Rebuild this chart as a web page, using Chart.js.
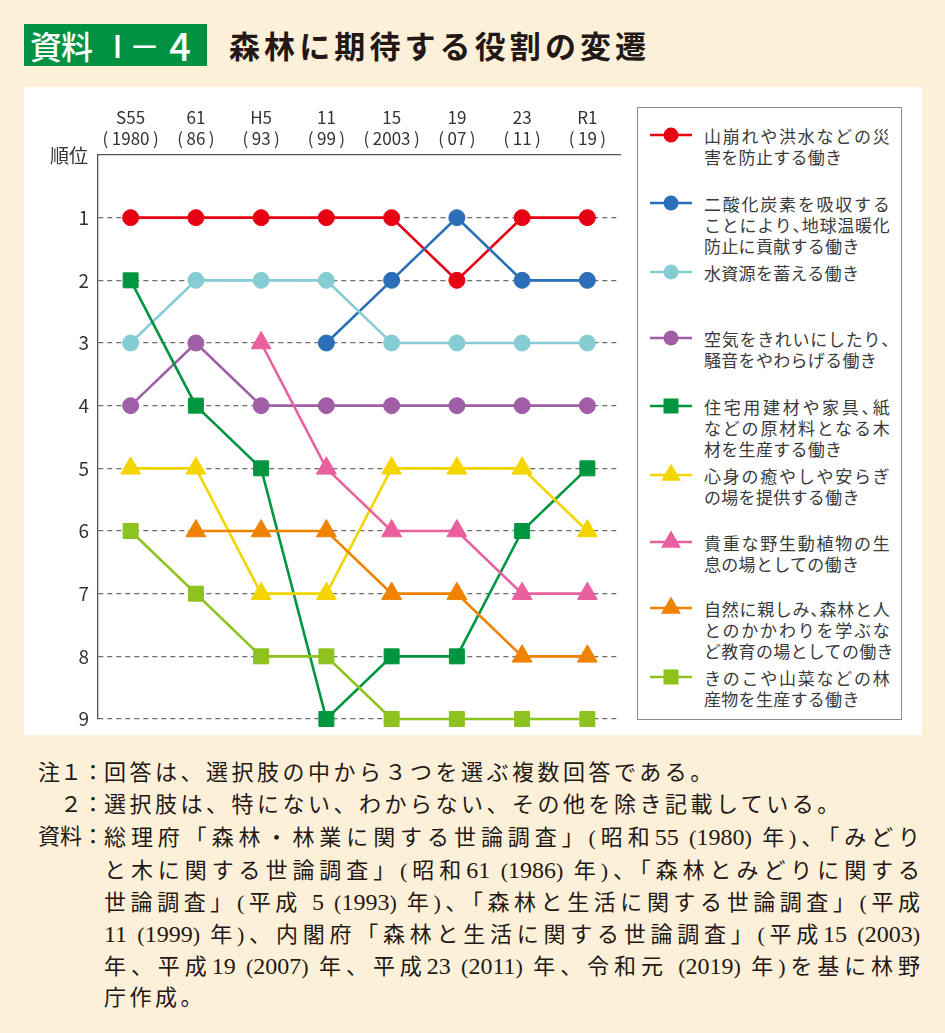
<!DOCTYPE html>
<html lang="ja">
<head>
<meta charset="utf-8">
<script src="https://cdn.jsdelivr.net/npm/chart.js@4.4.1/dist/chart.umd.min.js"></script>
<style>
html,body{margin:0;padding:0;}
body{width:945px;height:1033px;background:#FDF0D9;position:relative;overflow:hidden;font-family:"Noto Sans CJK JP","Noto Sans",sans-serif;color:#333;}
#badge{position:absolute;left:24px;top:24px;width:183px;height:42px;background:#009143;}
#badge span{position:absolute;top:0;color:#fff;font-size:31px;font-weight:500;line-height:42px;white-space:nowrap;text-align:center;}
#title{position:absolute;left:229px;top:23px;line-height:44px;font-size:31px;font-weight:700;letter-spacing:4.1px;color:#231815;white-space:nowrap;}
#panel{position:absolute;left:24px;top:87px;width:898px;height:648px;background:#fff;}
#chartBox{position:absolute;left:0;top:0;width:898px;height:648px;}
#rankLabel{position:absolute;left:50px;top:143px;font-size:19px;line-height:24px;color:#333;white-space:nowrap;}
#legend{position:absolute;left:637px;top:107px;width:265px;height:613px;border:1.5px solid #8a8a8a;box-sizing:border-box;background:#fff;}
.item{position:absolute;left:650px;}
.item svg{position:absolute;left:0;top:0;}
.item .txt{position:absolute;left:54px;top:0;width:186px;font-size:17px;line-height:21px;letter-spacing:0.3px;color:#3a3a3a;white-space:nowrap;}
.txt div{width:186px;}
.txt div.j{text-align:justify;text-align-last:justify;}
.h{font-feature-settings:"halt";}
#notes{position:absolute;left:24px;top:757px;font-family:"Liberation Serif","Noto Sans CJK JP",serif;font-size:22px;line-height:32.2px;color:#231815;}
.nl{position:relative;height:32.2px;white-space:nowrap;}
.nl .lab{position:absolute;left:0;top:0;width:80px;text-align:right;}
.nl .body{position:absolute;left:80px;top:0;}
.nl .body.free{letter-spacing:3.5px;}
.nl .body.just{width:816px;text-align:justify;text-align-last:justify;}
.d{font-size:24px;}
</style>
</head>
<body>
<div id="badge"><span style="left:4px;width:66px;font-size:32px;letter-spacing:-1px;">資料</span><span style="left:78px;width:30px;">Ⅰ</span><span style="left:105px;width:30px;">－</span><span style="left:136px;width:40px;font-size:38px;line-height:41px;">4</span></div>
<div id="title">森林に期待する役割の変遷</div>
<div id="panel"><div id="chartBox"><canvas id="c"></canvas></div></div>
<div id="rankLabel">順位</div>
<div id="legend"></div>
<div id="legendItems"></div>
<div id="notes">
  <div class="nl"><span class="lab">注１：</span><span class="body free">回答は、選択肢の中から３つを選ぶ複数回答である。</span></div>
  <div class="nl"><span class="lab">２：</span><span class="body free">選択肢は、特にない、わからない、その他を除き記載している。</span></div>
  <div class="nl"><span class="lab">資料：</span><span class="body just">総理府「森林・林業に関する世論調査」(昭和<span class="d">55</span> (<span class="d">1980</span>) 年)、「みどり</span></div>
  <div class="nl"><span class="body just">と木に関する世論調査」(昭和<span class="d">61</span> (<span class="d">1986</span>) 年)、「森林とみどりに関する</span></div>
  <div class="nl"><span class="body just">世論調査」(平成 <span class="d">5</span> (<span class="d">1993</span>) 年)、「森林と生活に関する世論調査」(平成</span></div>
  <div class="nl"><span class="body just"><span class="d">11</span> (<span class="d">1999</span>) 年)、内閣府「森林と生活に関する世論調査」(平成<span class="d">15</span> (<span class="d">2003</span>)</span></div>
  <div class="nl"><span class="body just">年、平成<span class="d">19</span> (<span class="d">2007</span>) 年、平成<span class="d">23</span> (<span class="d">2011</span>) 年、令和元 (<span class="d">2019</span>) 年)を基に林野</span></div>
  <div class="nl"><span class="body free">庁作成。</span></div>
</div>
<script>
// ---- data ----
const categories = [
  ['S55', '(\u20091980\u2009)'],
  ['61', '(\u200986\u2009)'],
  ['H5', '(\u200993\u2009)'],
  ['11', '(\u200999\u2009)'],
  ['15', '(\u20092003\u2009)'],
  ['19', '(\u200907\u2009)'],
  ['23', '(\u200911\u2009)'],
  ['R1', '(\u200919\u2009)']
];
const rankTicks = [1, 2, 3, 4, 5, 6, 7, 8, 9];
const seriesNames = [
  ['山崩れや洪水などの災', '害を防止する働き'],
  ['二酸化炭素を吸収する', 'ことにより、地球温暖化', '防止に貢献する働き'],
  ['水資源を蓄える働き'],
  ['空気をきれいにしたり、', '騒音をやわらげる働き'],
  ['住宅用建材や家具、紙', 'などの原材料となる木', '材を生産する働き'],
  ['心身の癒やしや安らぎ', 'の場を提供する働き'],
  ['貴重な野生動植物の生', '息の場としての働き'],
  ['自然に親しみ、森林と人', 'とのかかわりを学ぶな', 'ど教育の場としての働き'],
  ['きのこや山菜などの林', '産物を生産する働き']
];
const landslide      = [1, 1, 1, 1, 1, 2, 1, 1];
const carbon         = [null, null, null, 3, 2, 1, 2, 2];
const water          = [3, 2, 2, 2, 3, 3, 3, 3];
const air            = [4, 3, 4, 4, 4, 4, 4, 4];
const timber         = [2, 4, 5, 9, 8, 8, 6, 5];
const healing        = [5, 5, 7, 7, 5, 5, 5, 6];
const wildlife       = [null, null, 3, 5, 6, 6, 7, 7];
const education      = [null, 6, 6, 6, 7, 7, 8, 8];
const forestProducts = [6, 7, 8, 8, 9, 9, 9, 9];

// ---- styles ----
const seriesValues = [landslide, carbon, water, air, timber, healing, wildlife, education, forestProducts];
const seriesColors = ['#E60012', '#2A6FB7', '#86CDD3', '#A05EA7', '#00963F', '#F5D500', '#EA5F9E', '#EF8200', '#8DC21F'];
const seriesShapes = ['circle', 'circle', 'circle', 'circle', 'rect', 'triangle', 'triangle', 'triangle', 'rect'];
const shapeRadius = {circle: 8, rect: 10.6, triangle: 11.5};
const legendY = [135, 203, 272, 338, 406, 475, 542, 608, 677];
const FONT = '"Noto Sans CJK JP","Noto Sans",sans-serif';

const datasets = seriesValues.map((vals, i) => ({
  label: seriesNames[i].join(''),
  data: vals,
  borderColor: seriesColors[i],
  backgroundColor: seriesColors[i],
  pointBackgroundColor: seriesColors[i],
  pointBorderColor: seriesColors[i],
  pointBorderWidth: 1,
  borderWidth: 2.6,
  pointStyle: seriesShapes[i],
  pointRadius: shapeRadius[seriesShapes[i]],
  pointHoverRadius: shapeRadius[seriesShapes[i]],
  tension: 0,
  spanGaps: false,
  clip: false,
  order: -i
}));

new Chart(document.getElementById('c'), {
  type: 'line',
  data: {labels: categories, datasets},
  options: {
    responsive: true,
    maintainAspectRatio: false,
    animation: false,
    events: [],
    layout: {padding: {left: 34, right: 302, top: 8, bottom: 16}},
    plugins: {legend: {display: false}, tooltip: {enabled: false}},
    scales: {
      x: {
        position: 'top',
        offset: true,
        afterFit(s) { s.height = 60; s.paddingLeft = 0; s.paddingRight = 0; },
        grid: {display: false, drawTicks: false},
        border: {display: true, color: '#555', width: 1.3},
        ticks: {padding: 6, color: '#333', maxRotation: 0, autoSkip: false,
                font: {size: 17, family: FONT, lineHeight: 1.24}}
      },
      y: {
        type: 'linear',
        min: 0, max: 9, reverse: true,
        afterFit(s) { s.width = 40; s.paddingTop = 0; s.paddingBottom = 0; },
        afterBuildTicks(s) { s.ticks = [0].concat(rankTicks).map(v => ({value: v})); },
        ticks: {padding: 9, color: '#333', font: {size: 19, family: FONT},
                callback: v => (v === 0 ? '' : String(v))},
        grid: {drawTicks: false, lineWidth: 1.3,
               color: c => (c.tick && c.tick.value === 0 ? 'rgba(0,0,0,0)' : '#6d6d6d')},
        border: {display: true, color: '#555', width: 1.3, dash: [5, 4]}
      }
    }
  }
});

// ---- legend (HTML, built from the same series styles) ----
function markerSVG(color, shape) {
  const cx = 21, cy = 12;
  let m = '';
  if (shape === 'circle') m = `<circle cx="${cx}" cy="${cy}" r="7.5" fill="${color}"/>`;
  else if (shape === 'rect') m = `<rect x="${cx - 7.5}" y="${cy - 7.5}" width="15" height="15" fill="${color}"/>`;
  else {
    const r = 11.5, h = Math.sqrt(3) / 2 * r;
    m = `<polygon points="${cx},${cy - r} ${cx + h},${cy + r / 2} ${cx - h},${cy + r / 2}" fill="${color}"/>`;
  }
  return `<svg width="44" height="26" viewBox="0 0 44 26"><line x1="0" y1="${cy}" x2="42" y2="${cy}" stroke="${color}" stroke-width="2.6"/>${m}</svg>`;
}
const legendItems = document.getElementById('legendItems');
seriesNames.forEach((lines, i) => {
  const it = document.createElement('div');
  it.className = 'item';
  it.style.top = (legendY[i] - 12) + 'px';
  const rows = lines.map((ln, k) => {
    const html = ln.replace(/、/g, '<span class="h">、</span>');
    const cls = (k < lines.length - 1) ? 'j' : '';
    return `<div class="${cls}">${html}</div>`;
  }).join('');
  it.innerHTML = markerSVG(seriesColors[i], seriesShapes[i]) +
    `<div class="txt" style="top:1.5px">${rows}</div>`;
  legendItems.appendChild(it);
});
</script>
</body>
</html>
